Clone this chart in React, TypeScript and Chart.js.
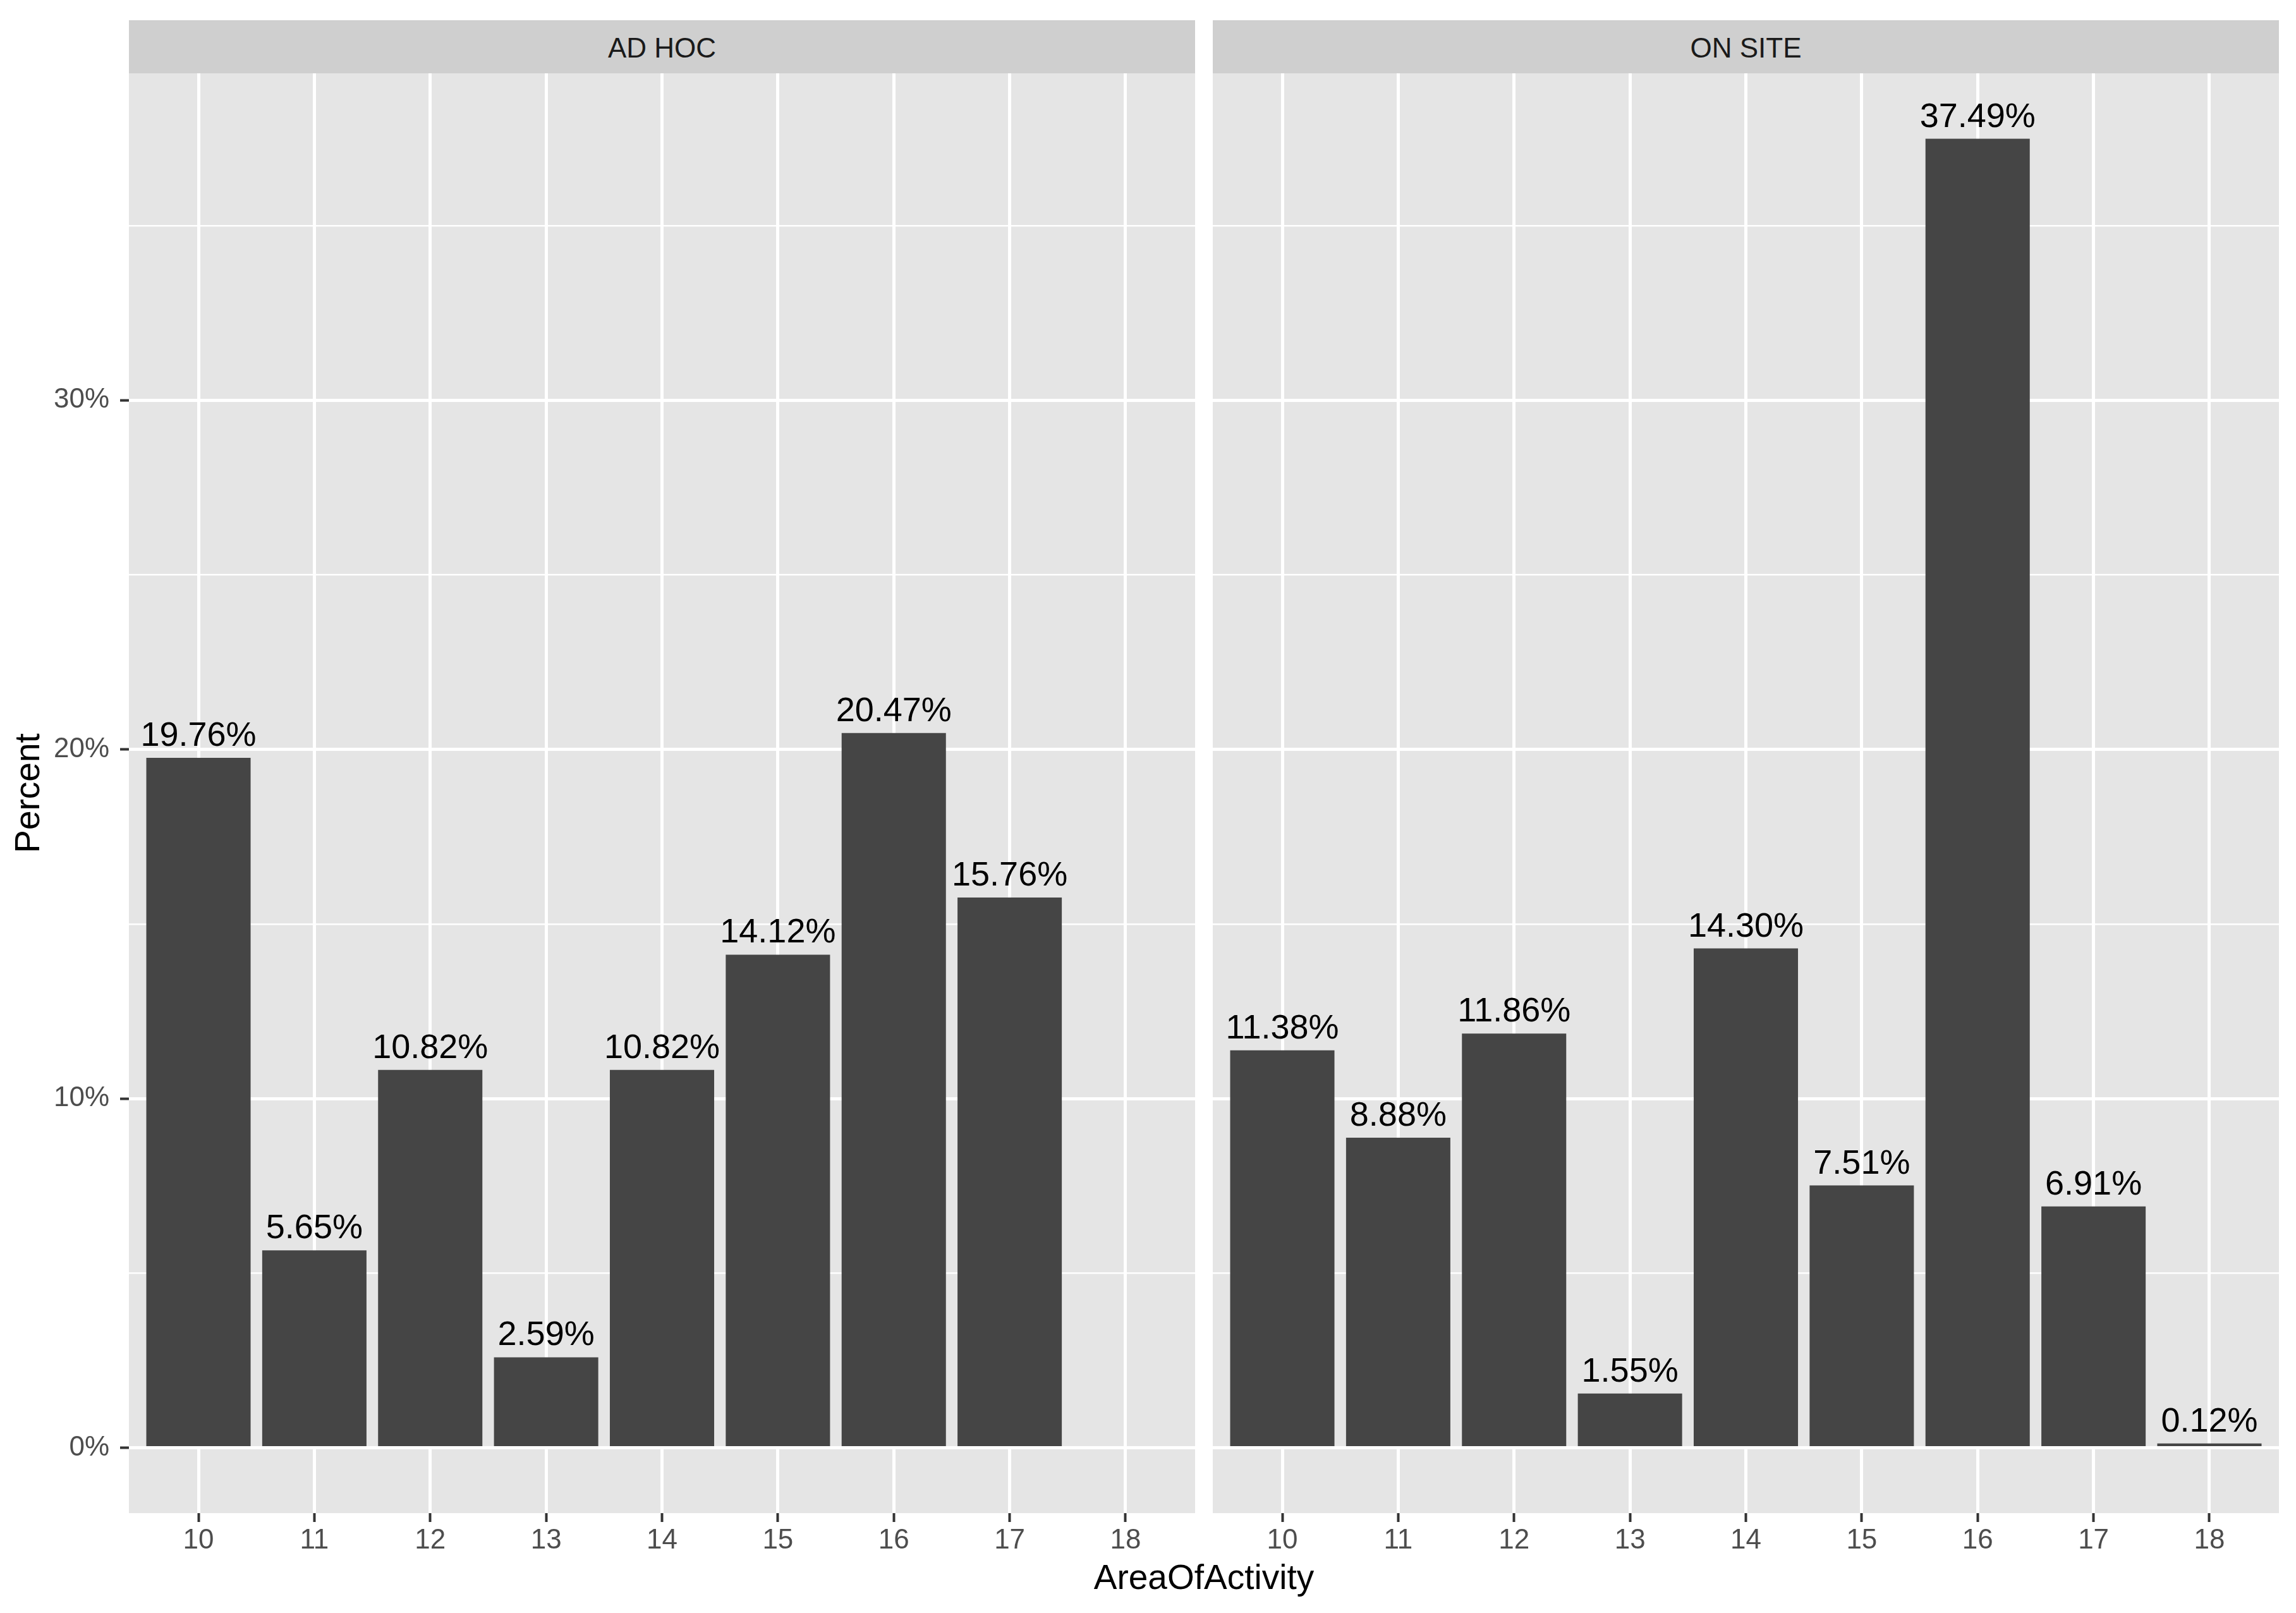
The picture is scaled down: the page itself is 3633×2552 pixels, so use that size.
import { useEffect, useRef } from "react";
import { Chart, registerables } from "chart.js";

Chart.register(...registerables);

// data
const areas = [10, 11, 12, 13, 14, 15, 16, 17, 18];
const adHocPercent: (number | null)[] = [19.76, 5.65, 10.82, 2.59, 10.82, 14.12, 20.47, 15.76, null];
const onSitePercent: (number | null)[] = [11.38, 8.88, 11.86, 1.55, 14.3, 7.51, 37.49, 6.91, 0.12];
const yTicks = [0, 5, 10, 15, 20, 25, 30, 35];
const facets = ["AD HOC", "ON SITE"];

const FONT = '"Liberation Sans", Arial, sans-serif';
const PANEL_BG = "#E5E5E5";
const STRIP_BG = "#CFCFCF";
const BAR = "#454545";

// ggplot-like expansion of the shared scales
const yPeak = Math.max(...onSitePercent.map((v) => v ?? 0), ...adHocPercent.map((v) => v ?? 0));
const yMin = -0.05 * yPeak;
const yMax = 1.05 * yPeak;
const xMin = areas[0] - 0.6;
const xMax = areas[areas.length - 1] + 0.6;

const PANEL_TOP = 116;
const PANEL_BOTTOM = 2394;
const X_AXIS_H = 76;
const PANEL_W = 1687;
const P1_LEFT = 204;
const P2_LEFT = 1919;
const CANVAS1_LEFT = 80;

const panelBg = {
  id: "panelBg",
  beforeDraw(chart: any) {
    const { ctx, chartArea } = chart;
    ctx.save();
    ctx.fillStyle = PANEL_BG;
    ctx.fillRect(chartArea.left, chartArea.top, chartArea.right - chartArea.left, chartArea.bottom - chartArea.top);
    ctx.restore();
  },
};

const barLabels = {
  id: "barLabels",
  afterDatasetsDraw(chart: any) {
    const { ctx } = chart;
    const meta = chart.getDatasetMeta(0);
    const data = chart.data.datasets[0].data;
    ctx.save();
    ctx.font = `54px ${FONT}`;
    ctx.fillStyle = "#000";
    ctx.textAlign = "center";
    ctx.textBaseline = "alphabetic";
    meta.data.forEach((bar: any, i: number) => {
      const v = data[i].y;
      if (v == null) return;
      ctx.fillText(`${v.toFixed(2)}%`, bar.x, bar.y - 19);
    });
    ctx.restore();
  },
};

function makeChart(canvas: HTMLCanvasElement, values: (number | null)[], withYAxis: boolean) {
  return new Chart(canvas, {
    type: "bar",
    data: {
      datasets: [
        {
          data: areas.map((a, i) => ({ x: a, y: values[i] })) as any,
          backgroundColor: BAR,
          borderWidth: 0,
          barPercentage: 0.9,
          categoryPercentage: 1,
        },
      ],
    },
    options: {
      responsive: false,
      animation: false,
      devicePixelRatio: 1,
      events: [],
      layout: { padding: 0 },
      plugins: { legend: { display: false }, tooltip: { enabled: false } },
      scales: {
        x: {
          type: "linear",
          min: xMin,
          max: xMax,
          offset: false,
          afterBuildTicks: (s: any) => {
            s.ticks = areas.map((v) => ({ value: v }));
          },
          afterFit: (s: any) => {
            s.height = X_AXIS_H;
            s.paddingLeft = 0;
            s.paddingRight = 0;
          },
          ticks: {
            autoSkip: false,
            maxRotation: 0,
            padding: 8,
            color: "#4D4D4D",
            font: { family: FONT, size: 44, lineHeight: 1 },
            callback: (v: any) => String(v),
          },
          grid: { offset: false, color: "#FFFFFF", lineWidth: 5, tickColor: "#333333", tickWidth: 4, tickLength: 14 },
          border: { display: false },
        },
        y: {
          type: "linear",
          min: yMin,
          max: yMax,
          afterBuildTicks: (s: any) => {
            s.ticks = yTicks.map((v) => ({ value: v }));
          },
          afterFit: (s: any) => {
            s.width = withYAxis ? P1_LEFT - CANVAS1_LEFT : 0;
            s.paddingTop = 0;
            s.paddingBottom = 0;
          },
          ticks: {
            display: withYAxis,
            autoSkip: false,
            padding: 17,
            color: "#4D4D4D",
            font: { family: FONT, size: 44, lineHeight: 1 },
            callback: (v: any) => (v % 10 === 0 ? `${v}%` : ""),
          },
          grid: {
            color: "#FFFFFF",
            lineWidth: (c: any) => (c.tick && c.tick.value % 10 === 0 ? 5 : 2.5),
            drawTicks: withYAxis,
            tickColor: (c: any) => (c.tick && c.tick.value % 10 === 0 ? "#333333" : "rgba(0,0,0,0)"),
            tickWidth: 4,
            tickLength: 14,
          },
          border: { display: false },
        },
      },
    },
    plugins: [panelBg, barLabels],
  });
}

export default function App() {
  const leftRef = useRef<HTMLCanvasElement>(null);
  const rightRef = useRef<HTMLCanvasElement>(null);

  useEffect(() => {
    const left = leftRef.current ? makeChart(leftRef.current, adHocPercent, true) : undefined;
    const right = rightRef.current ? makeChart(rightRef.current, onSitePercent, false) : undefined;
    return () => {
      if (left) left.destroy();
      if (right) right.destroy();
    };
  }, []);

  const canvasH = PANEL_BOTTOM - PANEL_TOP + X_AXIS_H;

  const strip = (label: string, left: number) => (
    <div
      key={label}
      style={{
        position: "absolute",
        left,
        top: 32,
        width: PANEL_W,
        height: PANEL_TOP - 32,
        background: STRIP_BG,
        display: "flex",
        alignItems: "center",
        justifyContent: "center",
        boxSizing: "border-box",
        paddingTop: 4,
        fontSize: 44,
        lineHeight: 1,
        color: "#1A1A1A",
      }}
    >
      {label}
    </div>
  );

  return (
    <div
      style={{
        position: "absolute",
        left: 0,
        top: 0,
        width: 3633,
        height: 2552,
        background: "#FFFFFF",
        fontFamily: FONT,
        overflow: "hidden",
      }}
    >
      {strip(facets[0], P1_LEFT)}
      {strip(facets[1], P2_LEFT)}
      <canvas
        ref={leftRef}
        width={P1_LEFT + PANEL_W - CANVAS1_LEFT}
        height={canvasH}
        style={{ position: "absolute", left: CANVAS1_LEFT, top: PANEL_TOP, display: "block" }}
      />
      <canvas
        ref={rightRef}
        width={PANEL_W}
        height={canvasH}
        style={{ position: "absolute", left: P2_LEFT, top: PANEL_TOP, display: "block" }}
      />
      <div
        style={{
          position: "absolute",
          left: 43,
          top: 1255,
          transform: "translate(-50%, -50%) rotate(-90deg)",
          fontSize: 55,
          lineHeight: 1,
          whiteSpace: "nowrap",
          color: "#000",
        }}
      >
        Percent
      </div>
      <div
        style={{
          position: "absolute",
          left: (P1_LEFT + P2_LEFT + PANEL_W) / 2,
          top: 2468,
          transform: "translateX(-50%)",
          fontSize: 55,
          lineHeight: 1,
          whiteSpace: "nowrap",
          color: "#000",
        }}
      >
        AreaOfActivity
      </div>
    </div>
  );
}
